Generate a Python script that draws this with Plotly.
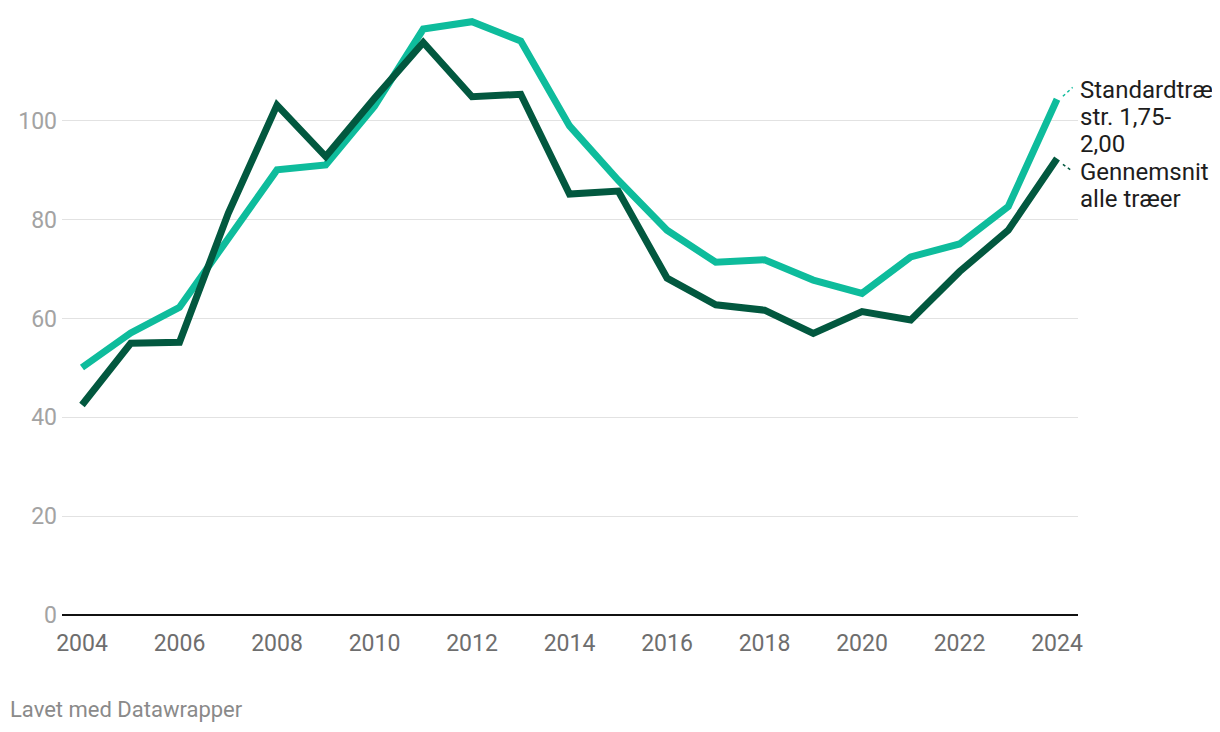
import plotly.graph_objects as go

years = list(range(2004, 2025))
standard = [50.1, 57.1, 62.3, 76.0, 90.1, 91.1, 103.0, 118.6, 120.1, 116.2,
            99.0, 88.0, 77.9, 71.4, 71.9, 67.8, 65.1, 72.5, 75.1, 82.7, 104.4]
average = [42.5, 55.0, 55.2, 81.3, 103.2, 92.8, 104.6, 115.9, 104.9, 105.4,
           85.2, 85.8, 68.2, 62.8, 61.7, 57.0, 61.4, 59.7, 69.5, 77.9, 92.4]
label_standard = ["Standardtræ", "str. 1,75-", "2,00"]
label_average = ["Gennemsnit", "alle træer"]
y_ticks = [0, 20, 40, 60, 80, 100]
x_ticks = list(range(2004, 2025, 2))

LIGHT = "#0ebc9c"
DARK = "#02583f"
FONT = "Roboto"

fig = go.Figure()
fig.add_trace(go.Scatter(x=years, y=standard, mode="lines",
                         line=dict(color=LIGHT, width=7), cliponaxis=False,
                         hoverinfo="skip"))
fig.add_trace(go.Scatter(x=years, y=average, mode="lines",
                         line=dict(color=DARK, width=7), cliponaxis=False,
                         hoverinfo="skip"))

# dotted connectors from line ends to labels
fig.add_shape(type="line", x0=years[-1] + 0.12, y0=standard[-1] + 0.6,
              x1=years[-1] + 0.32, y1=standard[-1] + 2.4,
              line=dict(color=LIGHT, width=1.5, dash="dot"))
fig.add_shape(type="line", x0=years[-1] + 0.12, y0=average[-1] - 1.2,
              x1=years[-1] + 0.32, y1=average[-1] - 2.6,
              line=dict(color=DARK, width=1.5, dash="dot"))

# line labels, one annotation per text line for tight line spacing
LINE_STEP = 27 / 4.94  # one text line in data units
top_standard = 106.3
for i, txt in enumerate(label_standard):
    fig.add_annotation(x=1.0, xref="paper", y=top_standard - i * LINE_STEP,
                       yref="y", text=txt, showarrow=False, xanchor="left",
                       yanchor="middle", align="left",
                       font=dict(family=FONT, size=24, color="#1d1d1d"))
top_average = 89.7
for i, txt in enumerate(label_average):
    fig.add_annotation(x=1.0, xref="paper", y=top_average - i * LINE_STEP,
                       yref="y", text=txt, showarrow=False, xanchor="left",
                       yanchor="middle", align="left",
                       font=dict(family=FONT, size=24, color="#1d1d1d"))

fig.add_annotation(x=0, xref="paper", y=-0.155, yref="paper",
                   text="Lavet med Datawrapper", showarrow=False,
                   xanchor="left", yanchor="middle", xshift=-54,
                   font=dict(family=FONT, size=22, color="#8a8a8a"))

fig.update_layout(
    width=1212, height=724,
    margin=dict(l=54, r=142, t=0, b=117),
    paper_bgcolor="white", plot_bgcolor="white",
    showlegend=False,
    font=dict(family=FONT),
    xaxis=dict(range=[2003.59, 2024.43], tickvals=x_ticks,
               ticktext=[str(v) for v in x_ticks], showgrid=False,
               zeroline=False, showline=False, ticks="",
               tickfont=dict(family=FONT, size=23, color="#6e6e6e"),
               ticklabelstandoff=12),
    yaxis=dict(range=[0, 122.87], tickvals=y_ticks,
               ticktext=[str(v) for v in y_ticks], showgrid=True,
               gridcolor="#e2e2e2", gridwidth=1, zeroline=True,
               zerolinecolor="#111111", zerolinewidth=2, showline=False,
               ticks="", tickfont=dict(family=FONT, size=23, color="#a3a3a3"),
               ticklabelstandoff=4),
)

fig.write_html("out.html")
